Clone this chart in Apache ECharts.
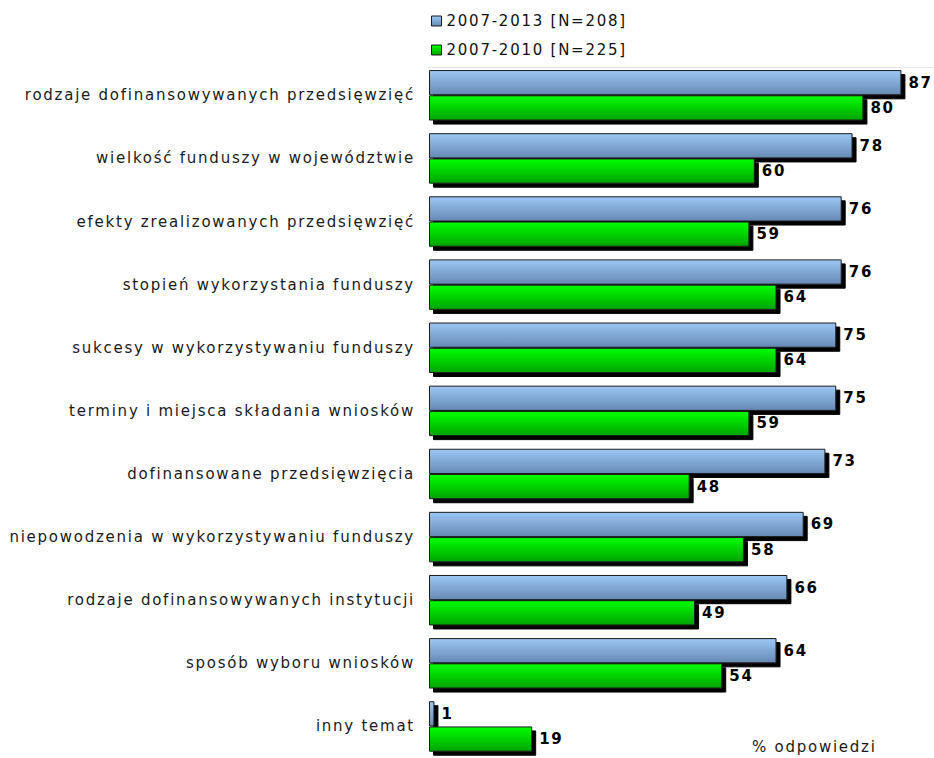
<!DOCTYPE html>
<html>
<head>
<meta charset="utf-8">
<script src="https://cdn.jsdelivr.net/npm/echarts@6/dist/echarts.min.js"></script>
<style>
  html, body { margin: 0; padding: 0; background: #ffffff; }
  #chart { width: 934px; height: 758px; }
  /* Verdana-like spacing for all chart texts */
  #chart svg text { letter-spacing: 1.75px; }
</style>
</head>
<body>
<div id="chart"></div>
<script>
// Topics, listed top to bottom
const categories = [
  'rodzaje dofinansowywanych przedsięwzięć',
  'wielkość funduszy w województwie',
  'efekty zrealizowanych przedsięwzięć',
  'stopień wykorzystania funduszy',
  'sukcesy w wykorzystywaniu funduszy',
  'terminy i miejsca składania wniosków',
  'dofinansowane przedsięwzięcia',
  'niepowodzenia w wykorzystywaniu funduszy',
  'rodzaje dofinansowywanych instytucji',
  'sposób wyboru wniosków',
  'inny temat'
];

const seriesNames = ['2007-2013 [N=208]', '2007-2010 [N=225]'];

// Share of answers (%)
const values2013 = [87, 78, 76, 76, 75, 75, 73, 69, 66, 64, 1];
const values2010 = [80, 60, 59, 64, 64, 59, 48, 58, 49, 54, 19];

const axisTitle = '% odpowiedzi';

const FONT = '"DejaVu Sans", Verdana, sans-serif';

const blueFill = new echarts.graphic.LinearGradient(0, 0, 0, 1, [
  { offset: 0, color: '#9cc7f5' },
  { offset: 1, color: '#6689b4' }
]);
const greenFill = new echarts.graphic.LinearGradient(0, 0, 0, 1, [
  { offset: 0, color: '#00ff00' },
  { offset: 1, color: '#00a300' }
]);

function barStyle(fill) {
  return {
    color: fill,
    borderColor: '#1c1c1c',
    borderWidth: 1,
    shadowColor: '#000000',
    shadowBlur: 0,
    shadowOffsetX: 4,
    shadowOffsetY: 4
  };
}

const valueLabel = {
  show: true,
  position: 'right',
  distance: 7,
  color: '#000000',
  fontFamily: FONT,
  fontWeight: 'bold',
  fontSize: 15
};

const chart = echarts.init(document.getElementById('chart'), null, { renderer: 'svg' });

chart.setOption({
  animation: false,
  backgroundColor: '#ffffff',
  textStyle: { fontFamily: FONT },
  legend: {
    orient: 'vertical',
    left: 426,
    top: 7,
    itemWidth: 10,
    itemHeight: 10,
    itemGap: 11,
    itemTextGap: 6,
    icon: 'rect',
    textStyle: { fontFamily: FONT, fontSize: 15, color: '#111111', lineHeight: 18 },
    itemStyle: { borderColor: '#1c1c1c', borderWidth: 1, shadowBlur: 0, shadowOffsetX: 0, shadowOffsetY: 0 },
    data: seriesNames
  },
  grid: {
    left: 429,
    top: 63.75,
    right: 0,
    height: 698.5,
    containLabel: false
  },
  xAxis: {
    type: 'value',
    min: 0,
    max: 93,
    show: false
  },
  yAxis: {
    type: 'category',
    inverse: true,
    data: categories,
    axisLine: { show: false },
    axisTick: { show: false },
    splitLine: { show: false },
    axisLabel: {
      margin: 14,
      fontFamily: FONT,
      fontSize: 15,
      color: '#1a1a1a'
    }
  },
  graphic: [
    {
      type: 'line',
      shape: { x1: 428, y1: 67.5, x2: 934, y2: 67.5 },
      style: { stroke: '#e6e6e6', lineWidth: 1 },
      silent: true
    },
    {
      type: 'text',
      left: 752,
      top: 739,
      style: { text: axisTitle, fontFamily: FONT, fontSize: 15, fill: '#1a1a1a' },
      silent: true
    }
  ],
  series: [
    {
      name: seriesNames[0],
      type: 'bar',
      data: values2013,
      barGap: '0%',
      barCategoryGap: '20%',
      itemStyle: barStyle(blueFill),
      label: valueLabel
    },
    {
      name: seriesNames[1],
      type: 'bar',
      data: values2010,
      barGap: '0%',
      barCategoryGap: '20%',
      itemStyle: barStyle(greenFill),
      label: valueLabel
    }
  ]
});
</script>
</body>
</html>
